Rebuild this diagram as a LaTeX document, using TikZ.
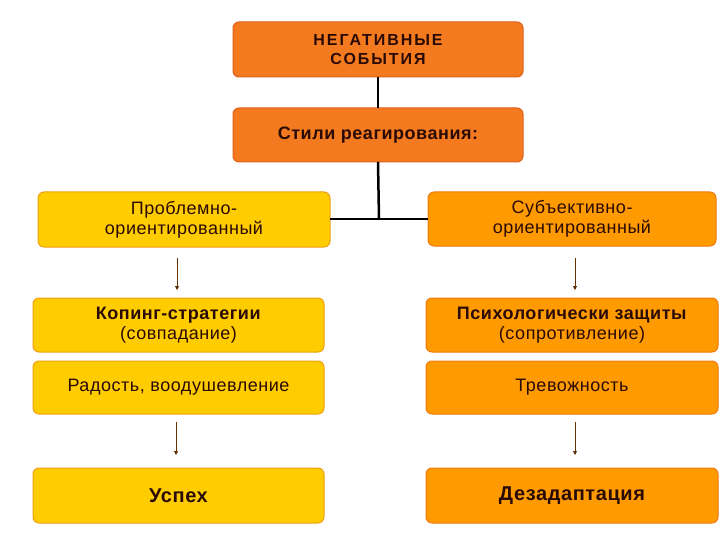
\documentclass[tikz,border=0pt]{standalone}
\usepackage{fontspec}
\setmainfont{Liberation Sans}
\newfontfamily\widefont[LetterSpace=12]{Liberation Sans}
\newfontfamily\normfont[LetterSpace=3]{Liberation Sans}
\usetikzlibrary{arrows.meta}
\definecolor{topfill}{HTML}{F47A1F}
\definecolor{topline}{HTML}{E0601A}
\definecolor{yelfill}{HTML}{FFCC00}
\definecolor{yelline}{HTML}{F0A010}
\definecolor{orfill}{HTML}{FF9A00}
\definecolor{orline}{HTML}{EE7A10}
\definecolor{txt}{HTML}{2A0A05}
\begin{document}
\begin{tikzpicture}[x=1pt,y=-1pt,
  box/.style={rounded corners=6pt,line width=1pt},
  topbox/.style={box,fill=topfill,draw=topline},
  ybox/.style={box,fill=yelfill,draw=yelline},
  obox/.style={box,fill=orfill,draw=orline},
  lbl/.style={font=\normfont\fontsize{18}{20}\selectfont,text=txt,align=center},
  blbl/.style={font=\normfont\bfseries\fontsize{18}{20}\selectfont,text=txt,align=center},
  biglbl/.style={font=\normfont\bfseries\fontsize{20}{22}\selectfont,text=txt,align=center},
  link/.style={line width=2.5pt,black},
  arr/.style={line width=0.8pt,draw=black!60!orange,-{Triangle[length=4pt,width=4pt,fill=black]}}]
\useasboundingbox (0,0) rectangle (720,540);
\fill[white] (0,0) rectangle (720,540);
% boxes
\draw[topbox] (233,22) rectangle (523,77);
\node[font=\widefont\bfseries\fontsize{16}{19}\selectfont,text=txt,align=center] (neg) at (378,50) {НЕГАТИВНЫЕ\\СОБЫТИЯ};
\coordinate (negS) at (378,77);
\draw[topbox] (233,108) rectangle (523,162);
\node[blbl] (sty) at (378,135) {Стили реагирования:};
\coordinate (styN) at (378,108);
\coordinate (styS) at (378,162);

\draw[ybox] (38,192) rectangle (330,247);
\node[lbl] (l1) at (184,219.5) {Проблемно-\\ориентированный};
\coordinate (l1E) at (330,219);
\draw[obox] (428,192) rectangle (716,246);
\node[lbl] (r1) at (572,219) {Субъективно-\\ориентированный};
\coordinate (r1W) at (428,219);
\coordinate (mid) at (379,219);

\draw[ybox] (33,298) rectangle (324,352);
\node[lbl] (l2) at (178.5,325) {\textbf{Копинг-стратегии}\\(совпадание)};
\draw[obox] (426,298) rectangle (718,352);
\node[lbl] (r2) at (572,325) {\textbf{Психологически защиты}\\(сопротивление)};

\draw[ybox] (33,361) rectangle (324,414);
\node[lbl] (l3) at (178.5,387.5) {Радость, воодушевление};
\draw[obox] (426,361) rectangle (718,414);
\node[lbl] (r3) at (572,387.5) {Тревожность};

\draw[ybox] (33,468) rectangle (324,523);
\node[biglbl] (l4) at (178.5,495.5) {Успех};
\draw[obox] (426,468) rectangle (718,523);
\node[biglbl] (r4) at (572,495.5) {Дезадаптация};

% connectors
\draw[link] (negS) -- (styN);
\draw[link] (styS) -- (mid);
\draw[line width=2pt] (l1E) -- (r1W);

\coordinate (a1s) at (177,258); \coordinate (a1e) at (177,290);
\coordinate (b1s) at (575,258); \coordinate (b1e) at (575,290);
\coordinate (a2s) at (176,422); \coordinate (a2e) at (176,455);
\coordinate (b2s) at (575,422); \coordinate (b2e) at (575,455);
\draw[arr] (a1s) -- (a1e);
\draw[arr] (b1s) -- (b1e);
\draw[arr] (a2s) -- (a2e);
\draw[arr] (b2s) -- (b2e);
\end{tikzpicture}
\end{document}
